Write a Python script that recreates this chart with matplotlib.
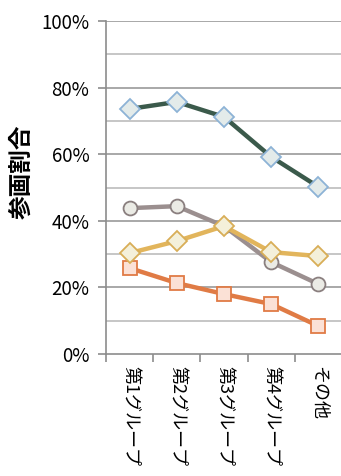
import matplotlib.pyplot as plt
from matplotlib.ticker import MultipleLocator, FixedLocator, FuncFormatter

plt.rcParams['font.family'] = ['Noto Sans CJK JP', 'DejaVu Sans']

categories = ["第1グループ", "第2グループ", "第3グループ", "第4グループ", "その他"]
series_a = [73.6, 75.7, 71.2, 59.2, 50.2]   # green diamonds
series_b = [43.8, 44.4, 38.4, 27.6, 21.0]   # gray circles
series_c = [30.3, 33.9, 38.4, 30.6, 29.4]   # yellow diamonds
series_d = [25.8, 21.3, 18.0, 15.0, 8.4]    # orange squares
y_label = "参画割合"

fig = plt.figure(figsize=(3.41, 4.76), dpi=100)
ax = fig.add_axes([106/341, 1 - 354/476, 236/341, 333/476])

x = range(len(categories))
ax.plot(x, series_a, '-', color='#3b5a4b', lw=3.2, marker='D', ms=10,
        mfc='#e3ebea', mec='#8db3d6', mew=1.3, zorder=3)
ax.plot(x, series_b, '-', color='#9b8f8f', lw=3.2, marker='o', ms=10,
        mfc='#ebebe5', mec='#8a7f7f', mew=1.3, zorder=3)
ax.plot(x, series_c, '-', color='#e2b55c', lw=3.2, marker='D', ms=10,
        mfc='#f4f0da', mec='#d8ae57', mew=1.3, zorder=4)
ax.plot(x, series_d, '-', color='#e07b45', lw=3.2, marker='s', ms=10,
        mfc='#fbe1d6', mec='#e07b45', mew=1.3, zorder=3)

ax.set_xlim(-0.5, 4.5)
ax.set_ylim(0, 100)

for v in range(10, 100, 10):
    ax.axhline(v, color='#bcbcbc' if v % 20 else '#9a9a9a', lw=1.2, zorder=1)
ax.axhline(100, color='#9a9a9a', lw=1.2, zorder=1)

ax.yaxis.set_major_locator(MultipleLocator(20))
ax.yaxis.set_major_formatter(FuncFormatter(lambda v, p: f"{int(v)}%"))
ax.tick_params(axis='y', length=6, width=1.2, color='#8c8c8c', labelsize=13.5, pad=6)

ax.xaxis.set_major_locator(FixedLocator([i - 0.5 for i in range(6)]))
ax.xaxis.set_minor_locator(FixedLocator(list(x)))
ax.set_xticklabels([])
ax.set_xticklabels(categories, minor=True, rotation=-90, va='top', ha='center', fontsize=13)
ax.tick_params(axis='x', which='major', length=6, width=1.2, color='#8c8c8c')
ax.tick_params(axis='x', which='minor', length=0, pad=9)

for s in ['top', 'right']:
    ax.spines[s].set_visible(False)
ax.spines['left'].set_color('#8c8c8c')
ax.spines['left'].set_linewidth(1.2)
ax.spines['bottom'].set_color('#8c8c8c')
ax.spines['bottom'].set_linewidth(1.2)

fig.text(22/341, 1 - 172/476, y_label, rotation=90, fontsize=17, fontweight='bold',
         ha='center', va='center')

fig.savefig('out.png', dpi=100)
